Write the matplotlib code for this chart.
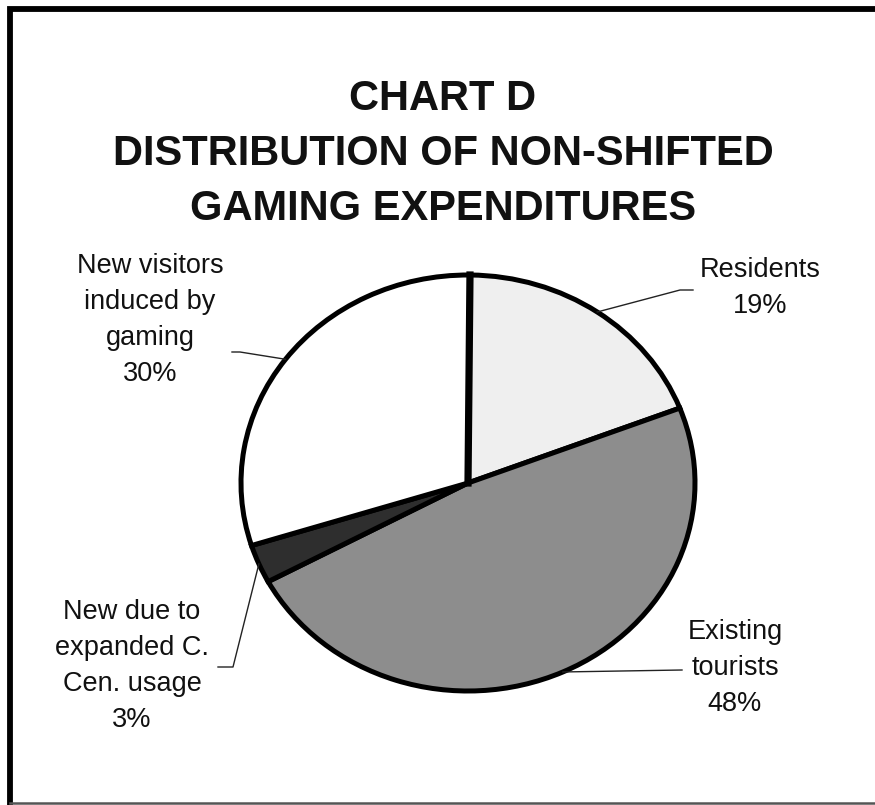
import numpy as np
import matplotlib
matplotlib.use("Agg")
import matplotlib.pyplot as plt

# Data
labels = ["Residents\n19%", "Existing\ntourists\n48%",
          "New due to\nexpanded C.\nCen. usage\n3%", "New visitors\ninduced by\ngaming\n30%"]
shares = [19, 48, 3, 30]
fills = ["#efefef", "#8d8d8d", "#2e2e2e", "#ffffff"]
title_lines = ["CHART D", "DISTRIBUTION OF NON-SHIFTED", "GAMING EXPENDITURES"]

W, H = 875, 805
fig = plt.figure(figsize=(W / 100, H / 100), dpi=100)

# pie geometry in pixels (from the top-left corner of the image)
cx, cy, rx, ry = 468, 483, 227, 208
ax = fig.add_axes([(cx - rx) / W, (H - cy - ry) / H, 2 * rx / W, 2 * ry / H])
wedges, _ = ax.pie(shares, colors=fills, startangle=89.5, counterclock=False,
                   radius=1, wedgeprops=dict(edgecolor="black", linewidth=3.6))
ax.set_aspect("auto")
ax.set_xlim(-1, 1)
ax.set_ylim(-1, 1)

# overlay in pixel coordinates for labels, leaders and frame
ov = fig.add_axes([0, 0, 1, 1], zorder=5)
ov.set_xlim(0, W)
ov.set_ylim(H, 0)
ov.axis("off")
ov.patch.set_alpha(0)

# the first wedge edge (at the top) is drawn heavier in the original
top = np.deg2rad(wedges[0].theta2)
ov.plot([cx, cx + rx * np.cos(top)], [cy, cy - ry * np.sin(top)], color="black", lw=5.2)

# label centres and elbow points of the leader lines
label_pos = [(760, 288), (735, 668), (132, 666), (150, 320)]
elbows = [[(680, 290), (693, 290)], [(682, 670)],
          [(233, 667), (218, 667)], [(240, 352), (232, 352)]]

for w, lab, (tx, ty), elb in zip(wedges, labels, label_pos, elbows):
    mid = np.deg2rad((w.theta1 + w.theta2) / 2)
    ex, ey = cx + rx * np.cos(mid), cy - ry * np.sin(mid)
    pts = [(ex, ey)] + elb
    ov.plot([p[0] for p in pts], [p[1] for p in pts], color="#222222", lw=1.0)
    ov.text(tx, ty, lab, ha="center", va="center", fontsize=19.5,
            family="Liberation Sans", linespacing=1.5, color="#111111")

# title, one line at a time
for i, line in enumerate(title_lines):
    ov.text(443, 99 + 55 * i, line, ha="center", va="center", fontsize=30,
            fontweight="bold", family="Liberation Sans", color="#111111")

# scanned frame: left, top and bottom edges
ov.plot([9.5, 9.5, 880], [803, 9, 9], color="black", lw=4.2, solid_joinstyle="miter")
ov.plot([9.5, 880], [802.5, 802.5], color="#555555", lw=1.8)

fig.savefig("out.png", dpi=100)
